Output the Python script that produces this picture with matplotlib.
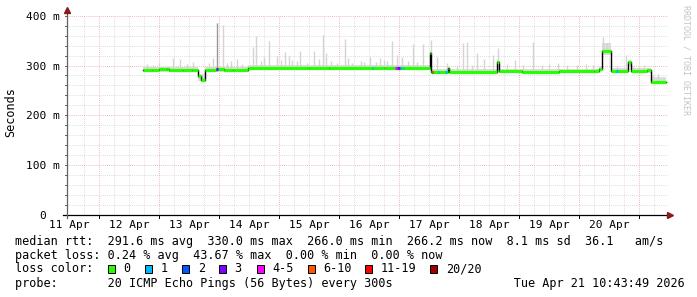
import numpy as np
import matplotlib
matplotlib.use('Agg')
import matplotlib.pyplot as plt
from matplotlib.patches import Rectangle

plt.rcParams['font.family'] = ['DejaVu Sans Mono']

W, H = 697, 297

# x axis: hours after 11 Apr 00:00
day_hours = [0, 24, 48, 72, 96, 120, 144, 168, 192, 216]
day_labels = ['11 Apr', '12 Apr', '13 Apr', '14 Apr', '15 Apr',
              '16 Apr', '17 Apr', '18 Apr', '19 Apr', '20 Apr']
y_ticks = [0, 100, 200, 300, 400]
y_labels = ['0  ', '100 m', '200 m', '300 m', '400 m']

# median rtt in ms, step: med_v[i] holds from med_t[i] to med_t[i+1]
med_t = [29.6, 33.0, 36.0, 39.0, 40.0, 45.5, 49.0, 51.6, 52.7, 54.3, 58.6, 62.0,
         65.5, 71.5, 96.0, 104.0, 126.0, 132.0, 144.1, 144.7, 151.3, 151.9,
         171.1, 171.9, 181.0, 196.0, 210.0, 212.0, 212.9, 216.5, 223.3, 224.6,
         231.0, 232.6, 238.7]
med_v = [292.0, 291.0, 292.5, 293.5, 292.0, 291.0, 292.0, 278.0, 271.0, 292.0,
         292.5, 291.0, 292.0, 295.5, 295.0, 295.5, 295.0, 295.5, 325.0, 287.5,
         296.0, 288.0, 308.0, 288.5, 288.0, 288.5, 289.5, 293.0, 329.0, 289.0,
         307.0, 289.0, 290.5, 266.5]

# short stretches where packets were lost (start hour, end hour, loss class)
blip_t0 = [58.7, 121.0, 130.4, 131.2, 132.5, 133.4, 145.0, 147.4, 150.4, 218.8]
blip_t1 = [59.3, 121.6, 131.2, 132.3, 133.0, 134.0, 145.6, 148.0, 151.0, 219.4]
blip_loss = [3, 1, 4, 3, 1, 1, 6, 1, 1, 1]

loss_labels = ['0', '1', '2', '3', '4-5', '6-10', '11-19', '20/20']
loss_colors = ['#26ff00', '#00b8ff', '#0059ff', '#7e00ff', '#ff00ff',
               '#ff5500', '#ff0000', '#a10000']

# smoke band (step): lo/hi hold from smoke_t[i] to smoke_t[i+1]
smoke_t = [29.6, 51.6, 54.3, 71.5, 144.1, 144.7, 171.1, 171.9, 212.0, 212.9,
           216.5, 223.3, 224.6, 232.6, 238.7]
smoke_lo = [288, 268, 288, 291, 291, 284, 284, 285, 289, 322, 286, 300, 286, 263]
smoke_hi = [298, 283, 298, 301, 330, 294, 312, 294, 300, 345, 296, 312, 296, 277]

# single smoke spikes (hour, top in ms)
spike_t = [31.0, 33.5, 36.0, 41.6, 44.3, 47.0, 49.5, 56.0, 57.6, 59.0, 61.4, 63.0,
           64.5, 67.0, 69.0, 73.6, 74.7, 76.5, 80.0, 83.0, 86.3, 89.0, 92.3, 95.0,
           98.0, 101.6, 104.5, 107.0, 110.3, 113.0, 116.5, 120.3, 122.5, 124.3,
           127.0, 129.0, 133.0, 135.5, 137.4, 139.0, 141.4, 144.6, 147.2, 151.0,
           155.0, 157.6, 159.0, 161.0, 163.2, 166.0, 169.6, 171.6, 175.0, 178.3,
           181.5, 185.6, 189.0, 192.0, 195.6, 199.0, 203.0, 206.5, 209.5, 213.6,
           215.0, 219.0, 222.7, 225.5, 228.0, 230.0, 233.5, 235.5,
           78.0, 84.5, 88.0, 91.0, 100.0, 102.5, 111.5, 118.0, 126.0, 131.0]
spike_v = [303, 302, 305, 315, 313, 304, 307, 305, 315, 386, 382, 306,
           309, 313, 304, 338, 360, 310, 350, 320, 328, 312, 330, 306,
           330, 362, 309, 306, 353, 305, 310, 318, 307, 315,
           309, 350, 318, 310, 343, 308, 343, 352, 318, 305,
           300, 345, 348, 302, 325, 314, 322, 335, 303, 312,
           302, 348, 301, 303, 305, 302, 301, 303, 302, 358,
           345, 300, 322, 300, 298, 301, 280, 282,
           318, 312, 320, 309, 314, 325, 316, 308, 312, 322]
dark_t = [59.0]
dark_v = [386]

fig = plt.figure(figsize=(W / 100, H / 100), dpi=100)
fig.patch.set_facecolor('white')

x0, x1, y0, y1 = 66.7, 668.0, 215.0, 15.7
ax = fig.add_axes([x0 / W, 1 - y0 / H, (x1 - x0) / W, (y0 - y1) / H])
ax.set_xlim(-1.04, 239.5)
ax.set_ylim(0, 400)
for s in ax.spines.values():
    s.set_visible(False)

ax.set_xticks(day_hours, day_labels)
ax.set_yticks(y_ticks, y_labels)
ax.tick_params(axis='x', length=0, pad=3.4, labelsize=8)
ax.tick_params(axis='y', length=0, pad=4.8, labelsize=8)

dot = (0, (1, 1.5))
# minor grid
for h in range(6, 240, 6):
    if (h - 12) % 24:
        ax.axvline(h, color='#d4d4d4', lw=0.6, ls=dot, zorder=0)
for v in range(20, 400, 20):
    if v % 100:
        ax.axhline(v, color='#d4d4d4', lw=0.6, ls=dot, zorder=0)
# major grid
for h in range(12, 240, 24):
    ax.axvline(h, color='#eba3a3', lw=0.6, ls=dot, zorder=0)
for v in range(100, 401, 100):
    ax.axhline(v, color='#eba3a3', lw=0.6, ls=dot, zorder=0)

# smoke
ax.fill_between(smoke_t, smoke_lo + [smoke_lo[-1]], smoke_hi + [smoke_hi[-1]],
                step='post', color='#dcdcdc', lw=0, zorder=1)
idx = np.searchsorted(med_t, spike_t, side='right') - 1
base = [med_v[i] for i in idx]
ax.vlines(spike_t, base, spike_v, color='#d4d4d4', lw=1.0, zorder=1)
ax.vlines(dark_t, 292, dark_v, color='#999999', lw=0.9, zorder=1)

# median: black steps, then loss coloured band
ax.step(med_t, med_v + [med_v[-1]], where='post', color='black', lw=1.0, zorder=2)
ax.hlines(med_v, med_t[:-1], med_t[1:], color=loss_colors[0], lw=2.3,
          capstyle='butt', zorder=3)
bidx = np.searchsorted(med_t, blip_t0, side='right') - 1
ax.hlines([med_v[i] for i in bidx], blip_t0, blip_t1,
          color=[loss_colors[k] for k in blip_loss], lw=2.3, capstyle='butt', zorder=4)

# axes with arrows
ax.plot([-4 / 601.3, 1.0], [0, 0], transform=ax.transAxes, color='black',
        lw=0.9, clip_on=False, zorder=5)
ax.plot([1.0 + 2 / 601.3], [0], transform=ax.transAxes, marker='>', ms=4,
        color='#8b1a1a', clip_on=False, zorder=6)
ax.plot([0, 0], [-3 / 199.3, 1.03], transform=ax.transAxes, color='#606060',
        lw=0.9, clip_on=False, zorder=5)
ax.plot([0], [1.0 + 6 / 199.3], transform=ax.transAxes, marker='^', ms=4,
        color='#8b1a1a', clip_on=False, zorder=6)
# small ticks on the axes
for h in range(12, 240, 24):
    ax.plot([h, h], [0, -3 * 400 / 199.3], color='black', lw=0.7, clip_on=False)
for v in range(0, 401, 20):
    ax.plot([-1.04, -1.04 - 2 * 240.54 / 601.3], [v, v], color='#606060',
            lw=0.7, clip_on=False)

fig.text(11 / W, 1 - 112.5 / H, 'Seconds', rotation=90, ha='center',
         va='center', fontsize=8.5)
fig.text(686 / W, 1 - 5 / H, 'RRDTOOL / TOBI OETIKER', rotation=270,
         ha='center', va='top', fontsize=6, color='#c4c4c4')

fs = 8.5
lx = 15.4
line1 = 'median rtt:  291.6 ms avg  330.0 ms max  266.0 ms min  266.2 ms now  8.1 ms sd  36.1   am/s'
line2 = 'packet loss: 0.24 % avg  43.67 % max  0.00 % min  0.00 % now'
line4 = 'probe:       20 ICMP Echo Pings (56 Bytes) every 300s                 Tue Apr 21 10:43:49 2026'
fig.text(lx / W, 1 - 244.5 / H, line1, fontsize=fs, va='baseline')
fig.text(lx / W, 1 - 258.5 / H, line2, fontsize=fs, va='baseline')
fig.text(lx / W, 1 - 272.5 / H, 'loss color:', fontsize=fs, va='baseline')
fig.text(lx / W, 1 - 286.5 / H, line4, fontsize=fs, va='baseline')

box_x = [108, 145.3, 182.2, 219.1, 256.9, 308, 365.4, 430.3]
for bx, lab, col in zip(box_x, loss_labels, loss_colors):
    fig.add_artist(Rectangle((bx / W, 1 - 273 / H), 7 / W, 8 / H,
                             transform=fig.transFigure, facecolor=col,
                             edgecolor='black', lw=0.7))
    fig.text((bx + 15.5) / W, 1 - 272.5 / H, lab, fontsize=fs, va='baseline')

fig.savefig('out.png', dpi=100)
